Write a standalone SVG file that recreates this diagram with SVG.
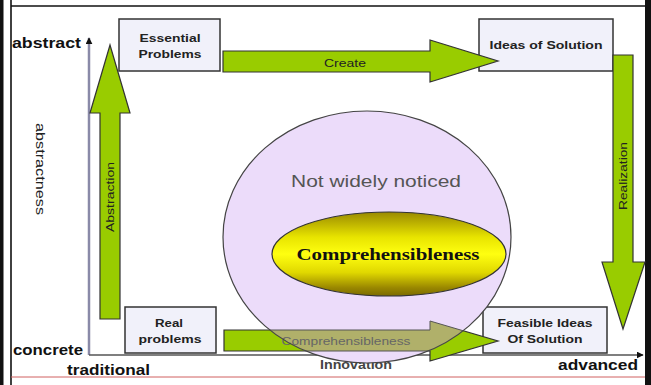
<svg xmlns="http://www.w3.org/2000/svg" width="651" height="385" viewBox="0 0 651 385">
<style>
.box{fill:#f1f1fa;stroke:#333;stroke-width:1.5}
.bt{font-family:"Liberation Sans",Arial,sans-serif;font-weight:bold;font-size:11px;fill:#222;text-anchor:middle}
.arr{fill:#99cc00;stroke:#333;stroke-width:1.2;stroke-linejoin:miter}
.at{font-family:"Liberation Sans",Arial,sans-serif;font-size:10.5px;fill:#222;text-anchor:middle}
.ax{font-family:"Liberation Sans",Arial,sans-serif;font-weight:bold;font-size:15px;fill:#111}
</style>
<defs>
<linearGradient id="yel" x1="0" y1="0" x2="0" y2="1">
<stop offset="0" stop-color="#9a8a00"/>
<stop offset="0.3" stop-color="#e8e400"/>
<stop offset="0.5" stop-color="#ffff10"/>
<stop offset="0.72" stop-color="#e0d800"/>
<stop offset="0.9" stop-color="#9a8800"/>
<stop offset="1" stop-color="#7a6a00"/>
</linearGradient>
<clipPath id="circ"><ellipse cx="367" cy="237" rx="144" ry="126"/></clipPath>
<marker id="ah" viewBox="0 0 10 10" refX="9" refY="5" markerWidth="7" markerHeight="7" markerUnits="userSpaceOnUse" orient="auto"><path d="M0,0 L10,5 L0,10 Z" fill="#111"/></marker>
</defs>
<rect width="651" height="385" fill="#fff"/>
<!-- frame -->
<g id="frame">
<rect x="0" y="0" width="3.5" height="385" fill="#111"/>
<rect x="645" y="0" width="6" height="385" fill="#111"/>
<line x1="11" y1="0" x2="11" y2="385" stroke="#111" stroke-width="1.6"/>
<line x1="11" y1="6" x2="645" y2="6" stroke="#111" stroke-width="1.6"/>
<line x1="11" y1="377" x2="645" y2="377" stroke="#d06060" stroke-width="1"/>
</g>
<!-- axes -->
<g id="axes">
<line x1="89" y1="355" x2="89" y2="38" stroke="#8a8aa8" stroke-width="2.5" marker-end="url(#ah)"/>
<line x1="89" y1="355" x2="643" y2="355" stroke="#555" stroke-width="1.5" marker-end="url(#ah)"/>
<text class="ax" x="12" y="48" textLength="69" lengthAdjust="spacingAndGlyphs">abstract</text>
<text class="ax" x="13" y="355" textLength="70" lengthAdjust="spacingAndGlyphs">concrete</text>
<text class="ax" x="67" y="375" textLength="83" lengthAdjust="spacingAndGlyphs">traditional</text>
<text class="ax" x="558" y="370" textLength="80" lengthAdjust="spacingAndGlyphs">advanced</text>
<text x="356" y="369" font-family="Liberation Sans,Arial,sans-serif" font-weight="bold" font-size="12" fill="#444" text-anchor="middle" textLength="72" lengthAdjust="spacingAndGlyphs">Innovation</text>
<text transform="translate(36,169) rotate(90)" font-family="Liberation Sans,Arial,sans-serif" font-size="13" fill="#222" text-anchor="middle" textLength="92" lengthAdjust="spacingAndGlyphs">abstractness</text>
</g>
<!-- nodes -->
<g id="essential">
<rect class="box" x="119" y="19" width="101" height="52"/>
<text class="bt" x="170" y="42" textLength="61" lengthAdjust="spacingAndGlyphs">Essential</text>
<text class="bt" x="170" y="58" textLength="63" lengthAdjust="spacingAndGlyphs">Problems</text>
</g>
<g id="ideas">
<rect class="box" x="479" y="19" width="134" height="52"/>
<text class="bt" x="546" y="49" textLength="113" lengthAdjust="spacingAndGlyphs">Ideas of Solution</text>
</g>
<g id="real">
<rect class="box" x="125" y="307" width="91" height="46"/>
<text class="bt" x="169" y="327" textLength="28" lengthAdjust="spacingAndGlyphs">Real</text>
<text class="bt" x="170" y="343" textLength="63" lengthAdjust="spacingAndGlyphs">problems</text>
</g>
<g id="feasible">
<rect class="box" x="483" y="307" width="124" height="46"/>
<text class="bt" x="545" y="327" textLength="95" lengthAdjust="spacingAndGlyphs">Feasible Ideas</text>
<text class="bt" x="545" y="343" textLength="75" lengthAdjust="spacingAndGlyphs">Of Solution</text>
</g>
<!-- connectors -->
<g id="connectors">
<path class="arr" d="M223,51 L430,51 L430,40 L498,61 L430,82 L430,72 L223,72 Z"/>
<text class="at" x="345" y="67" textLength="42" lengthAdjust="spacingAndGlyphs">Create</text>
<path class="arr" d="M100,319 L100,113 L90,113 L110,45 L130,113 L120,113 L120,319 Z"/>
<text class="at" transform="translate(114,197) rotate(-90)" textLength="70" lengthAdjust="spacingAndGlyphs">Abstraction</text>
<path class="arr" d="M613,55 L633,55 L633,262 L645,262 L623,329 L602,262 L613,262 Z"/>
<text class="at" transform="translate(627,176) rotate(-90)" textLength="68" lengthAdjust="spacingAndGlyphs">Realization</text>
<path class="arr" d="M224,330 L430,330 L430,321 L498,341 L430,361 L430,351 L224,351 Z"/>
</g>
<!-- circle -->
<g id="not-widely-noticed">
<ellipse cx="367" cy="237" rx="144" ry="126" fill="#ecdcfa"/>
<path d="M224,330 L430,330 L430,321 L498,341 L430,361 L430,351 L224,351 Z" fill="#b0b06a" stroke="#555" stroke-width="1" clip-path="url(#circ)"/>
<text x="346" y="345" font-family="Liberation Sans,Arial,sans-serif" font-size="11" fill="#666" text-anchor="middle" textLength="129" lengthAdjust="spacingAndGlyphs">Comprehensibleness</text>
<ellipse cx="367" cy="237" rx="144" ry="126" fill="none" stroke="#444" stroke-width="1.2"/>
<text x="376" y="187" font-family="Liberation Sans,Arial,sans-serif" font-size="17" fill="#555" text-anchor="middle" textLength="170" lengthAdjust="spacingAndGlyphs">Not widely noticed</text>
</g>
<g id="comprehensibleness">
<ellipse cx="389" cy="254" rx="117" ry="42" fill="url(#yel)" stroke="#333" stroke-width="1.2"/>
<text x="388" y="260" font-family="Liberation Serif,Times New Roman,serif" font-weight="bold" font-size="17" fill="#111" text-anchor="middle" textLength="183" lengthAdjust="spacingAndGlyphs">Comprehensibleness</text>
</g>
</svg>
